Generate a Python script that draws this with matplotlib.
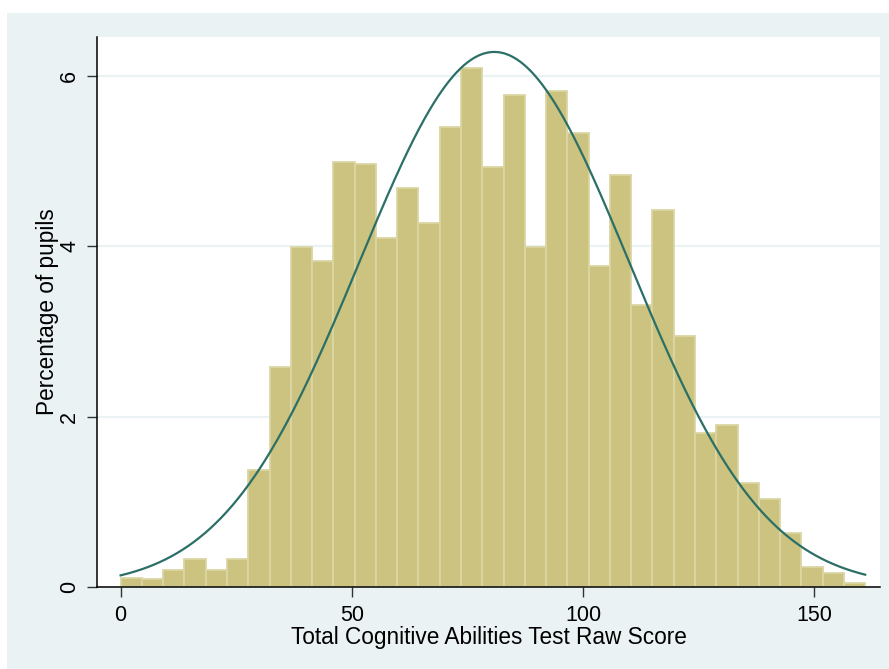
import numpy as np
import matplotlib
matplotlib.use("Agg")
import matplotlib.pyplot as plt
from matplotlib.patches import Rectangle

# histogram of raw scores, 35 bins of width 4.6 starting at 0
bin_start = 0.0
bin_width = 4.6
pct = [0.10, 0.09, 0.20, 0.33, 0.20, 0.33, 1.38, 2.58, 3.99, 3.83,
       4.99, 4.97, 4.10, 4.69, 4.27, 5.40, 6.10, 4.93, 5.78, 3.99,
       5.82, 5.33, 3.77, 4.84, 3.31, 4.43, 2.95, 1.81, 1.90, 1.22,
       1.03, 0.63, 0.24, 0.17, 0.05]

# fitted normal curve
score_mean = 80.8
score_sd = 29.2
score_min = 0
score_max = 161

xticks = [0, 50, 100, 150]
yticks = [0, 2, 4, 6]

bar_fill = "#cbc37f"
bar_edge = "#dbd6a3"
curve_col = "#2b6f66"
bg_col = "#eaf2f3"

plt.rcParams['font.family'] = ['Liberation Sans', 'DejaVu Sans']

fig = plt.figure(figsize=(8.89, 6.69), dpi=100)
fig.patch.set_facecolor("white")
fig.patches.append(Rectangle((7 / 889, 0), 1, 1 - 13 / 669, transform=fig.transFigure,
                             facecolor=bg_col, edgecolor="none", zorder=-10))

ax = fig.add_axes([97 / 889, 1 - 587 / 669, (880 - 97) / 889, (587 - 37) / 669])
ax.set_facecolor("white")

lefts = bin_start + bin_width * np.arange(len(pct))
ax.bar(lefts, pct, width=bin_width, align="edge", color=bar_fill,
       edgecolor=bar_edge, linewidth=1.3, zorder=2)

xs = np.linspace(score_min, score_max, 400)
dens = np.exp(-0.5 * ((xs - score_mean) / score_sd) ** 2) / (score_sd * np.sqrt(2 * np.pi))
ax.plot(xs, dens * bin_width * 100, color=curve_col, linewidth=1.6, zorder=3)

ax.set_xlim(-5.1, 164.2)
ax.set_ylim(0, 6.46)
ax.set_xticks(xticks)
ax.set_yticks(yticks)
ax.grid(axis="y", color=bg_col, linewidth=1.6, zorder=0)
ax.set_axisbelow(True)

for s in ["top", "right"]:
    ax.spines[s].set_visible(False)
for s in ["left", "bottom"]:
    ax.spines[s].set_color("black")
    ax.spines[s].set_linewidth(1.1)

ax.tick_params(axis="both", length=7, width=1.0, labelsize=15.5, color="#333333")
ax.tick_params(axis="x", pad=6)
ax.tick_params(axis="y", pad=5)
for lab in ax.get_yticklabels():
    lab.set_rotation(90)
    lab.set_va("center")

ax.set_xlabel("Total Cognitive Abilities Test Raw Score", fontsize=16.3, labelpad=0)
ax.set_ylabel("Percentage of pupils", fontsize=16.3, labelpad=0)

fig.savefig("out.png", dpi=100)
